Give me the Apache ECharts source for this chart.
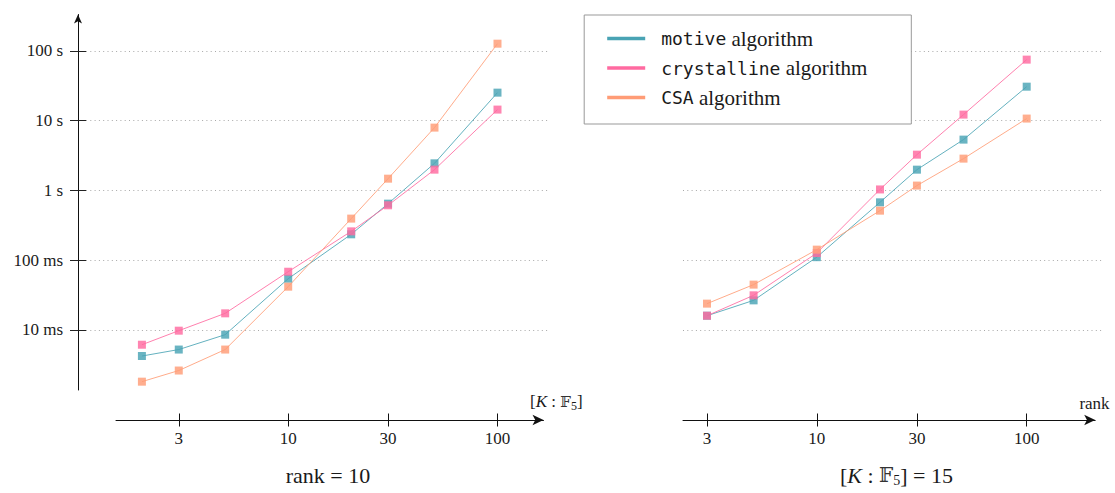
<!DOCTYPE html>
<html>
<head>
<meta charset="utf-8">
<script src="https://cdn.jsdelivr.net/npm/echarts@6/dist/echarts.min.js"></script>
<style>
html,body{margin:0;padding:0;background:#fff;}
#chart{width:1115px;height:493px;}
</style>
</head>
<body>
<div id="chart"></div>
<script>
// ---- data ----
const seriesNames = ['motive', 'crystalline', 'CSA'];
const xLeft = [2, 3, 5, 10, 20, 30, 50, 100];            // [K : F5], rank = 10
const leftMotive      = [0.0042, 0.0052, 0.0085, 0.054, 0.234, 0.644, 2.44, 25.2];
const leftCrystalline = [0.0061, 0.0097, 0.0172, 0.068, 0.258, 0.61, 1.98, 14.4];
const leftCSA         = [0.0018, 0.0026, 0.0052, 0.0415, 0.393, 1.47, 7.94, 127];
const xRight = [3, 5, 10, 20, 30, 50, 100];               // rank, [K : F5] = 15
const rightMotive      = [0.0159, 0.0264, 0.110, 0.673, 1.98, 5.34, 30.7];
const rightCrystalline = [0.0159, 0.0312, 0.126, 1.03, 3.25, 12.2, 75];
const rightCSA         = [0.0237, 0.0444, 0.141, 0.511, 1.17, 2.85, 10.7];
const yTickValues = [0.01, 0.1, 1, 10, 100];
const yTickLabels = ['10 ms', '100 ms', '1 s', '10 s', '100 s'];
const xTickValues = [3, 10, 30, 100];
const xTickLabels = ['3', '10', '30', '100'];

// ---- styling ----
const colors = ['#49a3b4', '#ff6aa0', '#ff9c76'];
const SERIF = 'Liberation Serif, DejaVu Serif, serif';
const MONO = 'DejaVu Sans Mono, Liberation Mono, monospace';
const MATHF = 'DejaVu Serif, DejaVu Sans, serif';
const yMin = 0.001367, yMax = 333;

function yFmt(v) {
  for (let i = 0; i < yTickValues.length; i++) {
    if (Math.abs(Math.log10(v) - Math.log10(yTickValues[i])) < 0.01) return yTickLabels[i];
  }
  return '';
}
function xFmt(v) {
  for (let i = 0; i < xTickValues.length; i++) {
    if (Math.abs(Math.log10(v) - Math.log10(xTickValues[i])) < 0.01) return xTickLabels[i];
  }
  return '';
}
function zip(xs, ys) { return xs.map((x, i) => [x, ys[i]]); }

const axisColor = '#111';
const labelStyle = { fontFamily: SERIF, fontSize: 17, color: '#1a1a1a' };
const mathRich = {
  b: { fontFamily: SERIF, fontSize: 17, color: '#1a1a1a' },
  i: { fontFamily: SERIF, fontSize: 17, fontStyle: 'italic', color: '#1a1a1a' },
  f: { fontFamily: MATHF, fontSize: 15, color: '#333' },
  sub: { fontFamily: SERIF, fontSize: 12, color: '#1a1a1a', padding: [9, 0, 0, 0] }
};

function mainX(grid, min, max, name, nameGap, nameAlign) {
  return {
    gridIndex: grid, type: 'log', min: min, max: max, position: 'bottom', offset: 30,
    axisLine: { show: true, onZero: false, symbol: ['none', 'arrow'], symbolSize: [8, 11],
      lineStyle: { color: axisColor, width: 1 } },
    axisTick: { show: true, length: 6.5, customValues: xTickValues, lineStyle: { color: axisColor, width: 1 } },
    axisLabel: Object.assign({ show: true, margin: 10, customValues: xTickValues, formatter: xFmt }, labelStyle),
    splitLine: { show: false }, minorTick: { show: false },
    name: name, nameLocation: 'end', nameGap: nameGap,
    nameTextStyle: { align: nameAlign, verticalAlign: 'bottom', padding: [0, 0, 8, 0],
      fontFamily: SERIF, fontSize: 17, color: '#1a1a1a', rich: mathRich }
  };
}
function insideX(grid, min, max) {
  return {
    gridIndex: grid, type: 'log', min: min, max: max, position: 'bottom', offset: 30,
    axisLine: { show: false }, axisLabel: { show: false }, splitLine: { show: false },
    axisTick: { show: true, inside: true, length: 6.5, customValues: xTickValues, lineStyle: { color: axisColor, width: 1 } }
  };
}
function gridY(grid) {
  return {
    gridIndex: grid, type: 'log', min: yMin, max: yMax, position: 'left',
    axisLine: { show: false }, axisLabel: { show: false },
    axisTick: { show: false, customValues: yTickValues },
    splitLine: { show: true, lineStyle: { type: [1, 3.3], color: '#a8a8a8', width: 1 } }
  };
}

const series = [];
const leftData = [leftMotive, leftCrystalline, leftCSA];
const rightData = [rightMotive, rightCrystalline, rightCSA];
seriesNames.forEach((n, k) => {
  const common = {
    type: 'line', name: n, symbol: 'rect', symbolSize: 8, color: colors[k],
    lineStyle: { width: 1, opacity: 0.85 }, itemStyle: { opacity: 0.82 },
    emphasis: { disabled: true }, z: 3
  };
  series.push(Object.assign({}, common, { xAxisIndex: 0, yAxisIndex: 0, data: zip(xLeft, leftData[k]) }));
  series.push(Object.assign({}, common, { xAxisIndex: 3, yAxisIndex: 3, data: zip(xRight, rightData[k]) }));
});

const option = {
  animation: false,
  backgroundColor: '#fff',
  grid: [
    { left: 116, top: 14.5, width: 427.5, height: 375.5, outerBoundsMode: 'none' },
    { left: 86, top: 14.5, width: 461.4, height: 375.5, outerBoundsMode: 'none' },
    { left: 683, top: 14.5, width: 412.2, height: 375.5, outerBoundsMode: 'none' },
    { left: 683, top: 14.5, width: 418.5, height: 375.5, outerBoundsMode: 'none' }
  ],
  xAxis: [
    mainX(0, 1.504, 165.9, '{b|[}{i|K}{b| : }{f|𝔽}{sub|5}{b|]}', 12.8, 'center'),
    insideX(0, 1.504, 165.9),
    { gridIndex: 1, type: 'value', min: 0, max: 1, show: false },
    mainX(2, 2.305, 212, 'rank', 14.4, 'right'),
    insideX(2, 2.305, 212),
    { gridIndex: 3, type: 'value', min: 0, max: 1, show: false }
  ],
  yAxis: [
    {
      gridIndex: 0, type: 'log', min: yMin, max: yMax, position: 'left', offset: 38,
      axisLine: { show: true, onZero: false, symbol: ['none', 'arrow'], symbolSize: [6, 9],
        lineStyle: { color: axisColor, width: 1 } },
      axisTick: { show: true, length: 8, customValues: yTickValues, lineStyle: { color: '#222', width: 1 } },
      axisLabel: Object.assign({ show: true, margin: 15, customValues: yTickValues, formatter: yFmt }, labelStyle),
      splitLine: { show: false }, minorTick: { show: false }
    },
    {
      gridIndex: 0, type: 'log', min: yMin, max: yMax, position: 'left', offset: 38,
      axisLine: { show: false }, axisLabel: { show: false }, splitLine: { show: false },
      axisTick: { show: true, inside: true, length: 8, customValues: yTickValues, lineStyle: { color: '#222', width: 1 } }
    },
    gridY(1),
    {
      gridIndex: 2, type: 'log', min: yMin, max: yMax, position: 'left',
      axisLine: { show: false }, axisLabel: { show: false }, axisTick: { show: false }, splitLine: { show: false }
    },
    gridY(3)
  ],
  legend: {
    orient: 'vertical', left: 584.2, top: 15,
    padding: [13, 44, 16, 23], itemGap: 8.5, itemWidth: 38, itemHeight: 3.5, icon: 'rect',
    borderColor: '#999', borderWidth: 1, backgroundColor: '#fff',
    data: seriesNames, selectedMode: false,
    itemStyle: { opacity: 1 },
    formatter: function (name) { return '{m|' + name + '}{s| algorithm}'; },
    textStyle: {
      rich: {
        m: { fontFamily: MONO, fontSize: 18, lineHeight: 22, color: '#1a1a1a', padding: [0, 0, 0, 11] },
        s: { fontFamily: SERIF, fontSize: 21, lineHeight: 22, color: '#1a1a1a' }
      }
    }
  },
  graphic: [
    { type: 'text', x: 328, y: 475, z: 10,
      style: { text: 'rank = 10', fontFamily: SERIF, fontSize: 22, fill: '#1a1a1a',
        align: 'center', verticalAlign: 'middle' } },
    { type: 'text', x: 896.5, y: 475, z: 10,
      style: { text: '{b|[}{i|K}{b| : }{f|𝔽}{sub|5}{b|] = 15}', fill: '#1a1a1a',
        align: 'center', verticalAlign: 'middle',
        rich: {
          b: { fontFamily: SERIF, fontSize: 22, fill: '#1a1a1a' },
          i: { fontFamily: SERIF, fontSize: 22, fontStyle: 'italic', fill: '#1a1a1a' },
          f: { fontFamily: MATHF, fontSize: 20, fill: '#333' },
          sub: { fontFamily: SERIF, fontSize: 14, fill: '#1a1a1a', padding: [11, 0, 0, 0] }
        } } }
  ],
  series: series
};

const chart = echarts.init(document.getElementById('chart'), null, { renderer: 'svg' });
chart.setOption(option);
</script>
</body>
</html>
